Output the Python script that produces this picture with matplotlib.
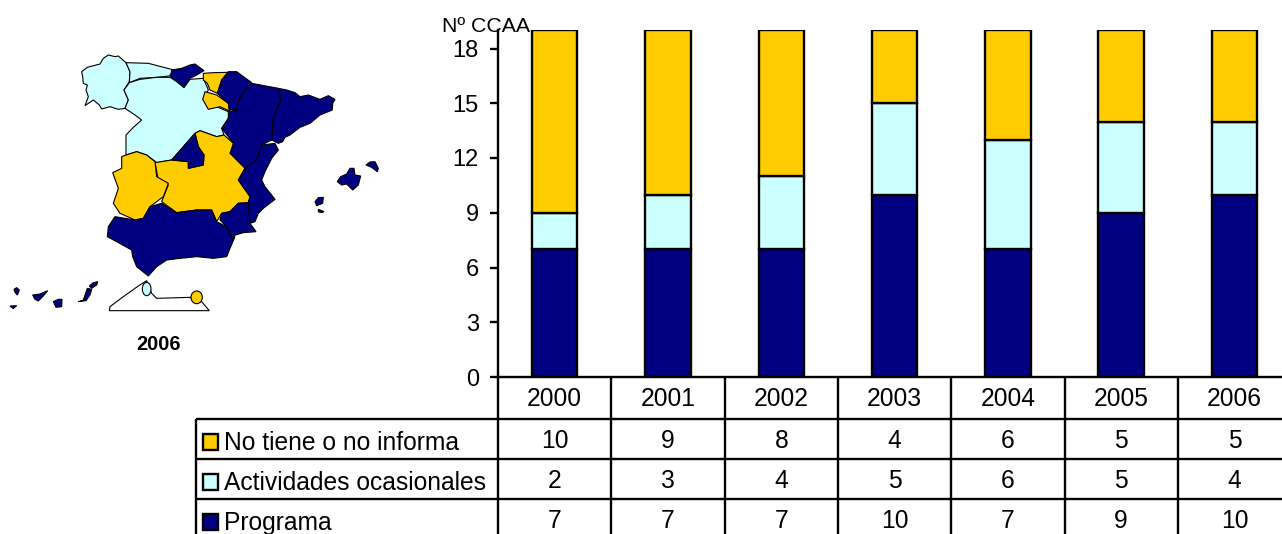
#!/usr/bin/env python3
import numpy as np
import matplotlib
matplotlib.use('Agg')
import matplotlib.pyplot as plt
from matplotlib.patches import Polygon, Ellipse, Rectangle

plt.rcParams['font.family'] = ['Liberation Sans', 'DejaVu Sans']

years = ['2000', '2001', '2002', '2003', '2004', '2005', '2006']
programa = [7, 7, 7, 10, 7, 9, 10]
ocasionales = [2, 3, 4, 5, 6, 5, 4]
no_tiene = [10, 9, 8, 4, 6, 5, 5]

NAVY = '#000080'
LIGHT = '#CCFFFF'
GOLD = '#FFCC00'

W, H = 1282, 534

# map outlines (own x/y grid, y downwards)
galicia = [(245,95),(262,82),(300,72),(310,55),(325,45),(345,50),(355,48),(378,68),(390,95),(388,125),(372,150),(385,180),(375,205),(355,208),(330,200),(305,207),(298,195),(280,180),(255,197),(265,170),(258,150),(262,135),(250,130),(248,110)]
asturias = [(378,68),(445,70),(522,90),(508,108),(470,112),(420,115),(388,128),(390,95)]
cantabria = [(515,90),(545,85),(570,75),(585,72),(612,92),(590,105),(570,115),(552,143),(530,125),(512,110)]
cyl = [(388,128),(420,118),(470,112),(510,112),(530,125),(552,143),(570,118),(610,115),(625,150),(610,175),(625,205),(650,200),(685,215),(685,235),(665,265),(672,285),(650,290),(600,272),(585,280),(515,360),(470,368),(440,345),(410,335),(378,345),(378,285),(400,262),(425,240),(405,225),(375,205),(385,180),(372,150)]
pais_vasco = [(610,100),(640,98),(685,97),(665,120),(652,160),(630,150),(622,130),(610,120)]
rioja = [(615,155),(650,165),(685,190),(688,213),(660,200),(625,208),(608,178)]
navarra = [(685,95),(710,95),(755,128),(735,150),(715,180),(710,213),(688,208),(685,190),(652,160),(665,120)]
aragon = [(755,130),(835,145),(842,180),(820,235),(815,300),(785,315),(770,360),(735,385),(690,340),(700,310),(685,290),(665,265),(685,235),(688,213),(710,213),(715,180),(735,150)]
cataluna = [(835,145),(860,150),(885,158),(900,170),(925,165),(960,178),(985,167),(1005,178),(998,190),(997,210),(960,225),(930,250),(900,262),(870,285),(855,292),(848,305),(835,310),(815,300),(820,235),(842,180)]
madrid = [(585,280),(595,320),(612,345),(610,375),(565,385),(565,365),(515,360)]
clm = [(600,272),(650,290),(672,285),(700,310),(690,340),(735,385),(715,420),(750,470),(745,488),(715,490),(690,515),(665,520),(650,545),(635,510),(590,510),(530,518),(485,485),(505,435),(475,420),(465,368),(515,360),(565,365),(565,385),(610,375),(612,345),(595,320),(585,280)]
extremadura = [(378,345),(410,335),(440,345),(465,365),(470,410),(505,430),(490,470),(450,500),(430,535),(405,540),(360,520),(340,490),(355,445),(338,398),(365,385),(365,350)]
valencia = [(785,315),(825,310),(835,330),(815,355),(795,395),(785,420),(795,440),(825,478),(790,505),(775,520),(765,545),(750,550),(745,488),(750,470),(715,420),(735,385),(770,360)]
murcia = [(745,488),(750,550),(768,575),(730,578),(690,590),(680,560),(660,540),(665,520),(690,515),(715,490)]
andalucia = [(485,490),(530,518),(590,510),(635,510),(650,545),(680,560),(690,590),(705,590),(690,625),(680,650),(640,655),(590,650),(540,655),(500,660),(470,680),(445,708),(410,680),(398,650),(395,630),(350,605),(322,590),(325,560),(345,530),(405,540),(430,535),(450,500)]
mallorca = [(1012,425),(1022,410),(1040,402),(1050,385),(1062,385),(1065,405),(1082,408),(1075,435),(1058,450),(1040,432),(1025,435)]
menorca = [(1098,375),(1110,366),(1125,365),(1135,385),(1132,395),(1115,382)]
ibiza = [(945,485),(955,473),(970,472),(968,490),(950,497)]
formentera = [(955,508),(972,515),(965,518),(955,515)]
hierro = [(30,798),(50,797),(40,806)]
palma = [(42,748),(50,743),(58,750),(52,765),(45,757)]
tenerife = [(98,765),(120,762),(143,752),(128,770),(115,783),(105,778)]
gomera = [(160,785),(175,778),(186,778),(185,800),(168,802)]
gran_canaria = [(235,785),(250,780),(262,745),(275,748),(270,765),(258,782)]
fuerteventura = [(268,738),(280,728),(293,725),(290,735),(275,745)]
africa = [(328,812),(330,800),(370,770),(415,738),(440,722),(455,760),(470,775),(570,772),(605,785),(628,812)]

map_regions = [
    (galicia, LIGHT), (asturias, LIGHT), (cantabria, NAVY), (cyl, LIGHT),
    (pais_vasco, GOLD), (rioja, GOLD), (navarra, NAVY), (aragon, NAVY),
    (cataluna, NAVY), (clm, GOLD), (madrid, NAVY), (extremadura, GOLD),
    (valencia, NAVY), (murcia, NAVY), (andalucia, NAVY), (mallorca, NAVY),
    (menorca, NAVY), (ibiza, NAVY), (formentera, NAVY), (hierro, NAVY),
    (palma, NAVY), (tenerife, NAVY), (gomera, NAVY), (gran_canaria, NAVY),
    (fuerteventura, NAVY), (africa, 'white'),
]

fig = plt.figure(figsize=(W / 100, H / 100), dpi=100, facecolor='white')


def px_axes(left, top, right, bottom):
    return fig.add_axes([left / W, 1 - bottom / H, (right - left) / W, (bottom - top) / H])


# map
m = px_axes(0, 40, 400, 360)
m.set_xlim(0, 1200)
m.set_ylim(960, 0)
m.axis('off')
for pts, col in map_regions:
    m.add_patch(Polygon(pts, closed=True, fc=col, ec='black', lw=0.8))
m.add_patch(Ellipse((440, 747), 26, 40, fc=LIGHT, ec='black', lw=0.8))
m.add_patch(Ellipse((590, 772), 34, 38, fc=GOLD, ec='black', lw=0.8))
m.text(474, 912, '2006', ha='center', va='center', fontsize=14.3, fontweight='bold')

# bars
col_w = 113.3
lw = 1.7
ax = px_axes(498, 30.25, 498 + 7 * col_w, 377)
x = np.arange(len(years))
ec = dict(edgecolor='black', linewidth=lw, width=0.4)
b1 = np.array(programa)
b2 = b1 + np.array(ocasionales)
ax.bar(x, programa, color=NAVY, **ec)
ax.bar(x, ocasionales, bottom=b1, color=LIGHT, **ec)
ax.bar(x, no_tiene, bottom=b2, color=GOLD, **ec)
ax.set_xlim(-0.5, 6.5)
ax.set_ylim(0, 19)
ax.set_yticks(range(0, 19, 3))
ax.set_xticks([])
ax.tick_params(axis='y', length=5.8, width=lw, labelsize=17, pad=8)
for s in ['top', 'right']:
    ax.spines[s].set_visible(False)
for s in ['left', 'bottom']:
    ax.spines[s].set_linewidth(lw)
fig.text(442 / W, 1 - 27 / H, 'Nº CCAA', fontsize=15.3, ha='left', va='center', zorder=5)

# data table under the bars
row_names = ['No tiene o no informa', 'Actividades ocasionales', 'Programa']
row_vals = [no_tiene, ocasionales, programa]
row_cols = [GOLD, LIGHT, NAVY]
row_lines = [419, 459, 499]
row_mid = [441, 481, 521]

t = px_axes(0, 0, 498 + 7 * col_w, H)
t.set_xlim(-498 / col_w - 0.5, 6.5)
t.set_ylim(H, 0)
t.axis('off')
t.patch.set_alpha(0)
t.vlines(x - 0.5, 377, H, color='black', lw=lw)
t.hlines(row_lines, -0.5 - (498 - 196) / col_w, 6.5, color='black', lw=lw)
t.vlines(-0.5 - (498 - 196) / col_w, 419, H, color='black', lw=lw)
for i, yr in enumerate(years):
    t.text(i, 399, yr, ha='center', va='center', fontsize=17.7)
for name, vals, c, ym in zip(row_names, row_vals, row_cols, row_mid):
    for i, v in enumerate(vals):
        t.text(i, ym, str(v), ha='center', va='center', fontsize=17.7)
    t.add_patch(Rectangle((-0.5 - (498 - 203) / col_w, ym - 7), 15 / col_w, 16, fc=c, ec='black', lw=lw))
    t.text(-0.5 - (498 - 224) / col_w, ym + 2, name, ha='left', va='center', fontsize=17.7)

fig.savefig('out.png', dpi=100)
